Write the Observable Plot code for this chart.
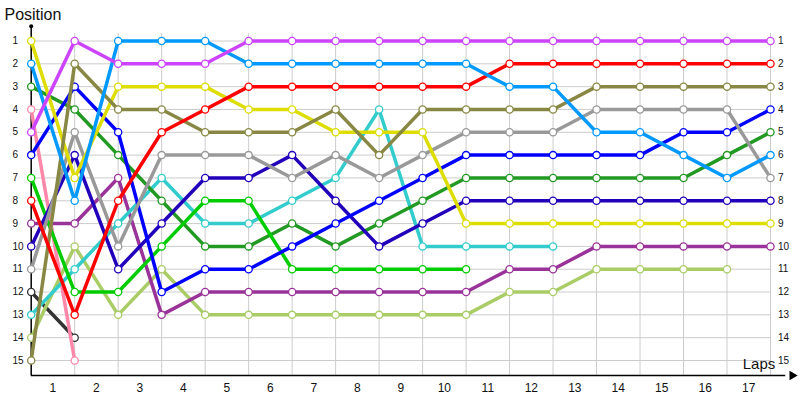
<!DOCTYPE html>
<html><head><meta charset="utf-8">
<script src="https://cdn.jsdelivr.net/npm/d3@7"></script>
<script src="https://cdn.jsdelivr.net/npm/@observablehq/plot@0.6"></script>
<style>body{margin:0;background:#fff}</style>
</head><body><div id="chart"></div>
<script>
const lapPoints = [0,1,2,3,4,5,6,7,8,9,10,11,12,13,14,15,16,17];
const lapLabels = ["1","2","3","4","5","6","7","8","9","10","11","12","13","14","15","16","17"];
const positionTicks = [1,2,3,4,5,6,7,8,9,10,11,12,13,14,15];

const violet     = [5,1,2,2,2,1,1,1,1,1,1,1,1,1,1,1,1,1];
const lightBlue  = [2,8,1,1,1,2,2,2,2,2,2,3,3,5,5,6,7,6];
const red        = [8,13,8,5,4,3,3,3,3,3,3,2,2,2,2,2,2,2];
const olive      = [15,2,4,4,5,5,5,4,6,4,4,4,4,3,3,3,3,3];
const yellow     = [1,7,3,3,3,4,4,5,5,5,9,9,9,9,9,9,9,9];
const gray       = [11,5,10,6,6,6,7,6,7,6,5,5,5,4,4,4,4,7];
const blue       = [6,3,5,12,11,11,10,9,8,7,6,6,6,6,6,5,5,4];
const navy       = [10,6,11,9,7,7,6,8,10,9,8,8,8,8,8,8,8,8];
const green      = [7,12,12,10,8,8,11,11,11,11,11];
const darkGreen  = [3,4,6,8,10,10,9,10,9,8,7,7,7,7,7,7,6,5];
const cyan       = [13,11,9,7,9,9,8,7,4,10,10,10,10];
const purple     = [9,9,7,13,12,12,12,12,12,12,12,11,11,10,10,10,10,10];
const lightGreen = [14,10,13,11,13,13,13,13,13,13,13,12,12,11,11,11,11];
const pink       = [4,15];
const charcoal   = [12,14];

const series = [
  {values: charcoal, color: "#333333"},
  {values: pink, color: "#ff88aa"},
  {values: lightGreen, color: "#aacc66"},
  {values: purple, color: "#993399"},
  {values: cyan, color: "#33cccc"},
  {values: darkGreen, color: "#229922"},
  {values: green, color: "#00cc00"},
  {values: navy, color: "#2200bb"},
  {values: blue, color: "#0000ff"},
  {values: gray, color: "#999999"},
  {values: yellow, color: "#dddd00"},
  {values: olive, color: "#888844"},
  {values: red, color: "#ff0000"},
  {values: lightBlue, color: "#0099ff"},
  {values: violet, color: "#cc44ff"}
];

const seriesMarks = series.flatMap(s => {
  const pts = s.values.map((v, i) => ({lap: lapPoints[i], pos: v}));
  return [
    Plot.line(pts, {x: "lap", y: "pos", stroke: s.color, strokeWidth: 3.5}),
    Plot.dot(pts, {x: "lap", y: "pos", r: 3.6, fill: "white", stroke: s.color, strokeWidth: 1.3})
  ];
});

const lastPositions = positionTicks;
const font = "Liberation Sans, Arial, sans-serif";

const chart = Plot.plot({
  width: 800,
  height: 400,
  marginLeft: 30.7, marginRight: 30, marginTop: 40.5, marginBottom: 40,
  x: {domain: [0, 17], range: [30.7, 770], axis: null},
  y: {domain: [1, 15], range: [40.5, 360], axis: null},
  style: {fontFamily: font, background: "white"},
  marks: [
    Plot.ruleY(positionTicks, {x1: 0, x2: 17, stroke: "#cccccc", strokeWidth: 1}),
    Plot.ruleX(lapPoints.slice(1), {y1: 0.67, y2: 15.66, stroke: "#cccccc", strokeWidth: 1}),
    Plot.ruleX([0], {y1: 0.35, y2: 15.66, stroke: "black", strokeWidth: 1.5}),
    Plot.ruleY([15.66], {x1: 0, x2: 17.35, stroke: "black", strokeWidth: 1.5}),
    Plot.dot([0], {x: d => d, y: 0.35, r: 2, fill: "black"}),
    Plot.dot([0], {x: 17.5, y: 15.66, symbol: "triangle2", rotate: 90, r: 4.5, fill: "black"}),
    ...seriesMarks,
    Plot.text(positionTicks, {x: -0.43, y: d => d, text: d => String(d), textAnchor: "start", fontSize: 10, fill: "#111"}),
    Plot.text(lastPositions, {x: 17.17, y: d => d, text: d => String(d), textAnchor: "start", fontSize: 10, fill: "#111"}),
    Plot.text(lapLabels, {x: (d, i) => lapPoints[i] + 0.5, y: 16.23, text: d => d, fontSize: 12, fill: "#111"}),
    Plot.text(["Position"], {x: -0.615, y: -0.14, text: d => d, textAnchor: "start", fontSize: 16, fill: "#111"}),
    Plot.text(["Laps"], {x: 17.11, y: 15.17, text: d => d, textAnchor: "end", fontSize: 15, fill: "#111"})
  ]
});
document.getElementById("chart").appendChild(chart);
</script>
</body></html>
